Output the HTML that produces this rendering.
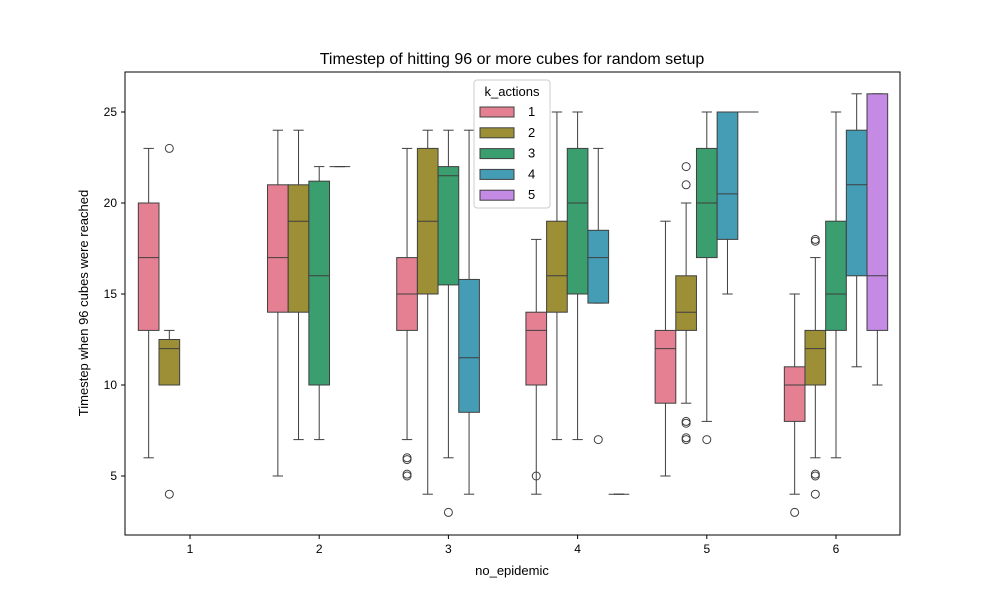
<!DOCTYPE html>
<html><head><meta charset="utf-8"><style>body{margin:0;background:#fff}svg{font-family:"Liberation Sans","DejaVu Sans",sans-serif}</style></head>
<body>
<svg id="chart" width="1000" height="600">
<rect x="0" y="0" width="1000" height="600" fill="#fff"/>
<text x="512" y="64" font-size="16" text-anchor="middle">Timestep of hitting 96 or more cubes for random setup</text>
<g id="plot"></g>
<rect x="125" y="72" width="775" height="463" fill="none" stroke="#000" stroke-width="1"/>
<text x="512" y="575" font-size="13" text-anchor="middle">no_epidemic</text>
<text transform="translate(88,303) rotate(-90)" font-size="13" text-anchor="middle">Timestep when 96 cubes were reached</text>
<g id="legend"></g>
</svg>
<script>
const categories=[1,2,3,4,5,6];
const hues=["1","2","3","4","5"];
const colors=["#e58093","#9c8f35","#3a9e6e","#449cb5","#c48ae4"];
const yTicks=[5,10,15,20,25];
// [group, hue, whiskerLow, q1, median, q3, whiskerHigh]
const boxStats=[
[0,0,6,13,17,20,23],[0,1,10,10,12,12.5,13],
[1,0,5,14,17,21,24],[1,1,7,14,19,21,24],[1,2,7,10,16,21.2,22],[1,3,22,22,22,22,22],
[2,0,7,13,15,17,23],[2,1,4,15,19,23,24],[2,2,6,15.5,21.5,22,24],[2,3,4,8.5,11.5,15.8,24],
[3,0,4,10,13,14,18],[3,1,7,14,16,19,25],[3,2,7,15,20,23,25],[3,3,14.5,14.5,17,18.5,23],[3,4,4,4,4,4,4],
[4,0,5,9,12,13,19],[4,1,9,13,14,16,20],[4,2,8,17,20,23,25],[4,3,15,18,20.5,25,25],[4,4,25,25,25,25,25],
[5,0,4,8,10,11,15],[5,1,6,10,12,13,17],[5,2,6,13,15,19,25],[5,3,11,16,21,24,26],[5,4,10,13,16,26,26]
];
// [group, hue, value]
const outliers=[[0,1,23],[0,1,4],[2,0,6],[2,0,5.9],[2,0,5],[2,0,5.1],[2,2,3],[3,0,5],[3,3,7],
[4,1,22],[4,1,21],[4,1,8],[4,1,7.9],[4,1,7],[4,1,7.1],[4,2,7],[5,0,3],[5,1,18],[5,1,17.9],[5,1,5],[5,1,5.1],[5,1,4]];
const NS="http://www.w3.org/2000/svg";
const y=v=>476-(v-5)*18.2;
const step=129.2, bw=step*0.8/5;
const xc=i=>190+i*step;
const xh=(g,h)=>xc(g)+(h-2)*bw;
function mk(tag,a,p){const e=document.createElementNS(NS,tag);for(const k in a)e.setAttribute(k,a[k]);p.appendChild(e);return e;}
const plot=document.getElementById('plot');
yTicks.forEach(t=>{
 const l=mk('line',{x1:121,x2:125,y1:y(t),y2:y(t),stroke:'#000'},plot);
 
 
 const tx=mk('text',{x:117,y:y(t)+4,'font-size':12,'text-anchor':'end'},plot);tx.textContent=t;
 
 
});
categories.forEach((c,i)=>{
 mk('line',{x1:xc(i),x2:xc(i),y1:535,y2:539,stroke:'#000'},plot);
 const tx=mk('text',{x:xc(i),y:553,'font-size':12,'text-anchor':'middle'},plot);tx.textContent=c;
 
 
});
const st='#3f3f3f';
boxStats.forEach(b=>{
 const [g,h,wl,q1,md,q3,wh]=b;const cx=xh(g,h);
 const gr=mk('g',{},plot);
 
 
 mk('line',{x1:cx,x2:cx,y1:y(wh),y2:y(q3),stroke:st},gr);
 mk('line',{x1:cx,x2:cx,y1:y(q1),y2:y(wl),stroke:st},gr);
 mk('line',{x1:cx-bw/4,x2:cx+bw/4,y1:y(wh),y2:y(wh),stroke:st},gr);
 mk('line',{x1:cx-bw/4,x2:cx+bw/4,y1:y(wl),y2:y(wl),stroke:st},gr);
 mk('rect',{x:cx-bw/2,y:y(q3),width:bw,height:Math.max(y(q1)-y(q3),0),fill:colors[h],stroke:st},gr);
 mk('line',{x1:cx-bw/2,x2:cx+bw/2,y1:y(md),y2:y(md),stroke:st},gr);
});
outliers.forEach(o=>{
 const c=mk('circle',{cx:xh(o[0],o[1]),cy:y(o[2]),r:4,fill:'none',stroke:st},plot);
 
 
});
const lg=document.getElementById('legend');
mk('rect',{x:474,y:80,width:76,height:128,rx:3,fill:'#fff',stroke:'#ccc'},lg);
const lt=mk('text',{x:512,y:96,'font-size':13,'text-anchor':'middle'},lg);lt.textContent='k_actions';
hues.forEach((h,i)=>{
 const yy=112+i*20.8;
 const e=mk('g',{},lg);
 
 
 mk('rect',{x:480,y:yy-5,width:34,height:10,fill:colors[i],stroke:st},e);
 const t=mk('text',{x:528,y:yy+4,'font-size':13},e);t.textContent=h;
});
</script>
</body></html>
